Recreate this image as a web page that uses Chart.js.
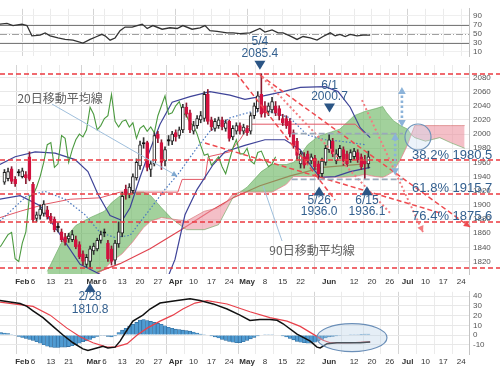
<!DOCTYPE html>
<html>
<head>
<meta charset="utf-8">
<script src="https://cdn.jsdelivr.net/npm/chart.js@4.4.0/dist/chart.umd.min.js"></script>
<style>
  html, body { margin: 0; padding: 0; background: #fff; }
  #wrap { position: relative; width: 500px; height: 368px; overflow: hidden; }
  canvas { position: absolute; left: 0; }
  #rsi { top: 0; }
  #macd { top: 283px; }
  #main { top: 0; pointer-events: none; }
</style>
</head>
<body>
<div id="wrap">
  <canvas id="rsi" width="500" height="65"></canvas>
  <canvas id="macd" width="500" height="85"></canvas>
  <canvas id="main" width="500" height="368"></canvas>
</div>
<script>
// x = trading day index, 0 = Mon Feb 6
const tickPos  = [-3, 0, 5, 10, 17, 20, 25, 30, 35, 40, 45, 50, 55, 60, 65, 70, 75, 83, 90, 95, 100, 105, 110, 115, 120];
const tickText = ['Feb', '6', '13', '21', 'Mar', '6', '13', '20', '27', 'Apr', '10', '17', '24', 'May', '8', '15', '22', 'Jun', '12', '20', '26', 'Jul', '10', '17', '24'];

// daily candles, first one at index -8
const firstDay = -8;
const opens = [1932,1937,1951,1936,1945,1940,1943,1968,
  1929,1881,1885,1888,1893,1884,1880,1868,1862,1855,
  1852,1851,1851,1844,1831,1816,1820,1835,1838,1850,
  1860,1846,1838,1822,1845,1860,1922,1915,1920,1938,
  1955,1986,1988,1950,1958,2000,1988,1962,1990,1990,
  2002,1998,2006,2038,2030,2004,2012,2020,2022,2056,
  2020,2008,2012,2020,2008,2018,1996,2004,2012,2004,
  2008,2004,2026,2036,2056,2040,2032,2034,2040,2036,
  2022,2022,2018,2002,1990,1958,1968,1972,1962,1966,
  1958,1944,1960,1978,1990,1962,1968,1978,1972,1964,
  1968,1974,1968,1962,1958];
const highs = [1950,1952,1954,1940,1950,1952,1947,1975,
  1932,1890,1900,1906,1898,1888,1883,1875,1866,1860,
  1860,1864,1856,1848,1835,1830,1842,1846,1853,1863,
  1866,1850,1842,1850,1876,1918,1928,1930,1944,1965,
  1990,1995,1990,1962,2002,2004,1992,1982,1998,2004,
  2006,2010,2042,2044,2034,2018,2026,2032,2060,2063,
  2024,2022,2024,2024,2020,2020,2012,2016,2016,2014,
  2012,2030,2044,2060,2085.4,2046,2044,2052,2046,2040,
  2028,2026,2022,2006,1994,1976,1974,1976,1972,1970,
  1962,1966,1984,2000.7,1994,1978,1984,1982,1976,1978,
  1980,1978,1972,1970,1976];
const lows = [1929,1934,1930,1926,1941,1938,1930,1934,
  1876,1876,1880,1884,1880,1874,1862,1862,1848,1843,
  1847,1848,1838,1824,1815,1812,1810.8,1830,1835,1846,
  1855,1820,1815,1816,1840,1855,1908,1910,1916,1935,
  1950,1980,1948,1940,1955,1988,1950,1955,1984,1985,
  1990,1994,2002,2024,2002,2000,2008,2016,2018,2014,
  2005,2004,2008,2006,2004,1990,1992,2000,2000,2000,
  1998,2000,2022,2032,2024,2024,2026,2030,2026,2020,
  2012,2008,1996,1980,1965,1952,1952,1958,1958,1950,
  1936,1940,1956,1974,1968,1958,1964,1956,1954,1960,
  1964,1960,1950,1936.1,1952];
const closes = [1946,1947,1933,1930,1946,1948,1938,1936,
  1879,1886,1894,1901,1883,1878,1865,1869,1851,1847,
  1856,1858,1841,1827,1820,1826,1838,1842,1850,1858,
  1861,1824,1820,1846,1862,1912,1914,1925,1940,1960,
  1985,1988,1953,1958,1998,1994,1960,1978,1992,2000,
  1996,2006,2038,2028,2006,2012,2022,2026,2056,2018,
  2010,2018,2020,2010,2016,1994,2008,2012,2004,2010,
  2002,2026,2040,2054,2028,2030,2040,2046,2030,2026,
  2016,2012,2000,1984,1970,1972,1956,1962,1968,1954,
  1944,1962,1980,1992,1972,1972,1980,1962,1958,1974,
  1976,1964,1954,1958,1968];

// ichimoku cloud (leading spans)
const cloudX = [4,8,12,16,20,22,25,28,31,33,36,39,43,48,52,54,56,58,60,64,67,71,73,75,77,80,86,90,93,96,98,99,101,103,105,106,107,110,114,117,120,121];
const spanA  = [1806,1847,1871,1882,1891,1903,1915,1918,1918,1913,1896,1880,1865,1865,1872,1891,1910,1918,1925,1947,1957,1957,1960,1971,1985,1997,2007,2026,2032,2036,2039,2031,2019,2012,2007,1999,1995,1990,1995,1988,1982,1980];
const spanB  = [1800,1795,1795,1797,1809,1820,1831,1848,1868,1877,1882,1880,1877,1891,1896,1903,1915,1918,1918,1918,1918,1929,1940,1940,1940,1940,1939,1940,1943,1940,1939,1941,1947,1964,1985,1999,2012,2012,2012,2012,2012,2012];

// other lines, read as [day, value]
const bbUpper = [[-9.3,1957],[-5,1968],[0.6,1975],[6.2,1973],[11.8,1964],[15.4,1947],[18.2,1915],[21.6,1885],[25,1878],[27.2,1896],[30,1939],[32.8,1978],[35.6,2014],[39,2045],[44,2053],[49.6,2060],[55.2,2055],[59.4,2049],[63.6,2053],[69.2,2059],[74.9,2066],[81.9,2067],[85.5,2060],[88.9,2038],[91.7,2009],[94.5,1995]];
const bbLower = [[-9.3,1908],[-3.6,1913],[2,1899],[7.6,1858],[13.2,1816],[18.8,1802],[23,1800],[25.8,1792],[32.8,1774],[37,1788],[39.8,1823],[42.6,1886],[46,1922],[50.5,1957],[53.8,1975],[59.4,1984],[65,1992],[70.6,1992],[74.9,1978],[78.2,1953],[80.5,1939],[84.7,1940],[88.9,1947],[94.5,1953]];
const kijun = [[-9.3,1882],[-3.6,1891],[3.4,1901],[10.4,1908],[18.8,1910],[24.4,1918],[40.6,1918],[41.8,1936],[48.2,1936],[49.1,1968],[55.2,1975],[58,1992],[60.8,2014],[90.3,2014],[93.1,2000]];
const ma20 = [[-9.3,1877],[-1.7,1913],[3.4,1919],[9,1908],[14.6,1886],[18.8,1861],[23,1854],[27.2,1857],[32.8,1894],[37,1922],[40.6,1943],[46,1981],[49.6,2004],[55.2,2023],[60.8,2031],[66.4,2032],[72,2023],[76.8,1999],[81.9,1992],[86.1,1990],[93.1,1985]];
const ma90 = [[18,1805],[24.4,1817],[32.8,1838],[41.2,1864],[49.6,1891],[56.1,1910],[63.6,1927],[72.1,1941],[81.3,1953],[93.1,1958]];
const levels = [2085.4, 1964, 1915.7, 1875.6, 1810.8];

// RSI
const rsiPts = [[-9.3,71.6],[-7.3,73.3],[-5.6,68.4],[-3.1,71.6],[-1.7,68.4],[-0.3,45.4],[2,47],[3.4,52],[4.8,45.4],[7,40.5],[9,37.3],[11.2,35.6],[14,29],[16,37.3],[17.9,43.8],[19.3,48.7],[20.2,45.4],[21.6,35.6],[23,40.5],[24.4,56.9],[25.8,65],[27.8,65],[29.2,68.4],[30.6,71.6],[32,61.8],[33.6,68.4],[36.2,60.2],[38.4,63.4],[40.4,61.8],[42,68.4],[44.6,60.2],[46.8,63.4],[48.2,68.4],[49.6,56.9],[51.6,55.3],[54.4,52],[56.1,52],[58,50.4],[60.8,52],[63.6,61.8],[65,53.6],[67,58.5],[68.7,52],[70.1,52],[72,45.4],[74,37.3],[75.7,43.8],[77.7,40.5],[79.6,35.6],[81.3,43.8],[83.3,52],[84.7,45.4],[86,48.7],[87.5,43.8],[88.9,48.7],[90.8,45.4],[92.5,47],[94.5,47]];
const rsiTicks = [10, 30, 50, 70, 90];

// MACD
const macdPts = [[-9.25,35.7],[-3.6,32.5],[-1.7,29.5],[0,25],[2.8,17.9],[5.6,8.9],[8.4,0],[11.2,-8],[14,-14.3],[15.4,-16],[17.9,-13.4],[19.6,-11.6],[21,-13.4],[23,-12.5],[24.4,-6.3],[26.4,5.4],[28,14.3],[30.8,20.5],[32.8,26.8],[35.6,33],[40.4,35.7],[44,37.5],[46.8,35.7],[50.5,32.1],[54.4,26.8],[58,20.5],[60.8,15],[63.6,16],[66.4,16],[68.4,15.2],[70.1,11.6],[74,0.9],[77.7,-6.3],[79.6,-12.5],[80.5,-13.4],[82.4,-8.9],[85.2,-8],[88.9,-8],[91.7,-8],[94.5,-7.1]];
const signalPts = [[-9.25,34],[0,29.5],[4.8,20.5],[9.5,7.1],[13.2,-1.8],[16.8,-8],[20.7,-12.5],[23,-12.5],[26.4,-8.9],[29.2,0],[32,7.1],[35.6,14.3],[39.2,20.5],[42,26.8],[45.4,33],[48.8,35.5],[54.4,32],[60.8,24],[66.4,17.9],[71.2,14.3],[74.9,8.9],[78.5,0.9],[81.3,-5.4],[83.3,-8],[88.9,-8],[94.5,-7.1]];
const histFirst = -9;
const histVals = [2.5,2,1.5,0.5,-0.5,-1.5,-2.5,-3.5,-4.5,
  -5.5,-7,-8.5,-10,-11.5,-12.5,-12.8,-12.8,-12.5,-12.5,
  -12,-11,-10,-8.5,-7,-6,-4.5,-3,-1.5,-0.5,
  -0.5,-1.5,-2,-1,2.5,5,7,9,11,13,
  15.5,16,15,14,13,12,11,9.5,8,7,
  6,5.5,5,4.5,4,3,2,1,0.5,0,
  -1,-2,-3,-4.5,-5.5,-6.5,-7.5,-8,-8,-7,
  -5.5,-4,-2.5,-1,0,0.5,0.5,0.5,0,0,
  -1,-2,-3.5,-5,-6.5,-7.5,-8,-8.5,-8.5,-7.5,
  -6,-4.5,-3,-2,-1.5,-1,-0.5,0,0,0.5,
  0.5,0.5,0.8,1,1];

const FONT = '"Liberation Sans", Arial, sans-serif';
const JP = '"Noto Sans CJK JP", sans-serif';
const X_MIN = -9.25, X_MAX = 122.2;
const isMonth = i => /^[A-Z]/.test(tickText[i] || '');
const pts = arr => arr.map(([x, y]) => ({ x, y }));

function xAxis(showLabels) {
  return {
    type: 'linear', min: X_MIN, max: X_MAX, offset: false,
    afterBuildTicks: s => { s.ticks = tickPos.map(v => ({ value: v })); },
    afterFit: s => { s.height = showLabels ? 14 : 0; },
    ticks: {
      display: showLabels, autoSkip: false, maxRotation: 0, padding: 3, color: '#333',
      font: c => ({ family: FONT, size: 8, weight: isMonth(c.index) ? 'bold' : 'normal' }),
      callback: (v, i) => tickText[i]
    },
    grid: { color: c => isMonth(c.index) ? '#d4d4d4' : '#ebebeb', drawTicks: false },
    border: { display: false }
  };
}

function yAxis(min, max, step, extra) {
  return Object.assign({
    position: 'right', min, max,
    afterFit: s => { s.width = 31; },
    ticks: { color: '#555', padding: 4, autoSkip: false, includeBounds: false, stepSize: step,
      font: { family: FONT, size: 8 }, callback: v => v },
    grid: { color: '#e8e8e8', drawTicks: false },
    border: { color: '#c4c4c4' }
  }, extra);
}

const base = {
  responsive: false, animation: false, devicePixelRatio: 1,
  plugins: { legend: { display: false }, tooltip: { enabled: false } },
  elements: { point: { radius: 0 }, line: { tension: 0 } }
};

// ---------- RSI ----------
const rsiLines = {
  id: 'rsiLines',
  beforeDatasetsDraw(chart) {
    const { ctx, chartArea: a, scales: { y } } = chart;
    ctx.save();
    [[70, []], [30, []], [50, [7, 2, 1, 2]]].forEach(([v, dash]) => {
      ctx.strokeStyle = v === 50 ? '#a0a0a0' : '#7a7a7a';
      ctx.lineWidth = 1;
      ctx.setLineDash(dash);
      ctx.beginPath();
      ctx.moveTo(a.left, Math.round(y.getPixelForValue(v)) + 0.5);
      ctx.lineTo(a.right, Math.round(y.getPixelForValue(v)) + 0.5);
      ctx.stroke();
    });
    ctx.restore();
  }
};

new Chart(document.getElementById('rsi'), {
  type: 'line',
  data: { datasets: [{ data: pts(rsiPts), borderColor: '#333', borderWidth: 1.3 }] },
  options: Object.assign({}, base, {
    scales: {
      x: xAxis(false),
      y: yAxis(-0.4, 106, 20, {
        afterBuildTicks: s => { s.ticks = rsiTicks.map(v => ({ value: v })); },
        grid: { color: '#efefef', drawTicks: false }
      })
    }
  }),
  plugins: [rsiLines]
});

// ---------- MACD ----------
const macdNote = {
  id: 'macdNote',
  afterDatasetsDraw(chart) {
    const { ctx, scales: { x, y } } = chart;
    ctx.save();
    ctx.beginPath();
    ctx.ellipse(x.getPixelForValue(89.4), y.getPixelForValue(-2.7), 35, 14, 0, 0, Math.PI * 2);
    ctx.fillStyle = 'rgba(180,205,230,0.35)';
    ctx.fill();
    ctx.strokeStyle = '#6b8fb8';
    ctx.lineWidth = 1.2;
    ctx.stroke();
    ctx.restore();
  }
};

new Chart(document.getElementById('macd'), {
  type: 'line',
  data: {
    datasets: [
      { type: 'line', data: pts(macdPts), borderColor: '#111', borderWidth: 1.5, order: 1 },
      { type: 'line', data: pts(signalPts), borderColor: '#e8414b', borderWidth: 1.2, order: 2 },
      { type: 'bar', data: histVals.map((v, i) => ({ x: histFirst + i, y: v })),
        backgroundColor: '#4f9bd2', borderColor: '#2c6798', borderWidth: 0.6,
        barThickness: 3.4, grouped: false, order: 3 }
    ]
  },
  options: Object.assign({}, base, {
    scales: { x: xAxis(true), y: yAxis(-19.6, 44.6, 10) }
  }),
  plugins: [macdNote]
});

// ---------- main price panel ----------
const idx = opens.map((_, i) => firstDay + i);
const kind = opens.map((o, i) => closes[i] > o + 2 ? 'up' : closes[i] < o - 2 ? 'down' : 'flat');
const bodyFill = { up: '#ffffff', down: '#d3123f', flat: '#111111' };
const bodyLine = { up: '#222222', down: '#d3123f', flat: '#111111' };

function arrowHead(ctx, x1, y1, x2, y2, size) {
  const a = Math.atan2(y2 - y1, x2 - x1);
  ctx.beginPath();
  ctx.moveTo(x2, y2);
  ctx.lineTo(x2 - size * Math.cos(a - 0.5), y2 - size * Math.sin(a - 0.5));
  ctx.lineTo(x2 - size * Math.cos(a + 0.5), y2 - size * Math.sin(a + 0.5));
  ctx.closePath();
  ctx.fill();
}

const notes = {
  id: 'notes',
  afterDatasetsDraw(chart) {
    const { ctx, scales: { x, y } } = chart;
    const X = v => x.getPixelForValue(v);
    const Y = v => y.getPixelForValue(v);
    ctx.save();

    // horizontal price levels, full width
    ctx.strokeStyle = '#ec3a40';
    ctx.lineWidth = 1.7;
    ctx.setLineDash([5, 3]);
    levels.forEach(v => {
      ctx.beginPath();
      ctx.moveTo(0, Math.round(Y(v)));
      ctx.lineTo(chart.width, Math.round(Y(v)));
      ctx.stroke();
    });

    // trend lines from the May high
    const lines = [
      [63.6, 2083.5, 122.5, 1868.8, 'dash', true],
      [48.2, 1987.4, 114.1, 1888.6, 'dash', false],
      [56.9, 2086.3, 84.7, 1906.9, 'dash', false],
      [64.2, 2080.6, 100.1, 1888.6, 'dot', false],
      [92.2, 2048, 109.3, 1861.7, 'dot', true]
    ];
    lines.forEach(([x1, v1, x2, v2, st, head]) => {
      ctx.strokeStyle = st === 'dash' ? '#ee4a4f' : '#f27d80';
      ctx.fillStyle = ctx.strokeStyle;
      ctx.lineWidth = st === 'dash' ? 1.5 : 2;
      ctx.setLineDash(st === 'dash' ? [5, 3] : [2, 2.5]);
      ctx.beginPath();
      ctx.moveTo(X(x1), Y(v1));
      ctx.lineTo(X(x2), Y(v2));
      ctx.stroke();
      if (head) { ctx.setLineDash([]); arrowHead(ctx, X(x1), Y(v1), X(x2), Y(v2), 7); }
    });

    // range box lines
    ctx.strokeStyle = '#9aa9ba';
    ctx.lineWidth = 1.6;
    ctx.setLineDash([6, 3]);
    [2000.7, 1936.0].forEach(v => {
      ctx.beginPath();
      ctx.moveTo(X(72.5), Y(v));
      ctx.lineTo(X(103.7), Y(v));
      ctx.stroke();
    });

    // dotted target arrows
    ctx.strokeStyle = '#8cb3d9';
    ctx.fillStyle = '#8cb3d9';
    ctx.lineWidth = 2.6;
    [[103.4, 2066.5, 2010], [101.5, 2001.6, 1942]].forEach(([d, top, bot]) => {
      const px = X(d);
      ctx.setLineDash([2.5, 2.5]);
      ctx.beginPath();
      ctx.moveTo(px, Y(bot) - 4);
      ctx.lineTo(px, Y(top) + 4);
      ctx.stroke();
      ctx.setLineDash([]);
      arrowHead(ctx, px, Y(bot), px, Y(top), 8);
      arrowHead(ctx, px, Y(top), px, Y(bot), 8);
    });

    // circle at cloud twist
    ctx.setLineDash([]);
    ctx.beginPath();
    ctx.arc(X(107.9), Y(1995.9), 13, 0, Math.PI * 2);
    ctx.fillStyle = 'rgba(200,220,240,0.35)';
    ctx.fill();
    ctx.strokeStyle = '#6f93ba';
    ctx.lineWidth = 1.2;
    ctx.stroke();

    // pointer lines for the MA labels
    ctx.strokeStyle = '#9fbfdc';
    ctx.fillStyle = '#7fa8d0';
    ctx.lineWidth = 1;
    ctx.beginPath();
    ctx.moveTo(X(5.3), Y(2042.5));
    ctx.lineTo(X(40.4), Y(1940.8));
    ctx.stroke();
    arrowHead(ctx, X(5.3), Y(2042.5), X(40.4), Y(1940.8), 6);
    ctx.beginPath();
    ctx.moveTo(X(69.8), Y(1849));
    ctx.lineTo(X(64.5), Y(1926.7));
    ctx.stroke();

    ctx.textAlign = 'center';
    ctx.textBaseline = 'middle';
    ctx.fillStyle = '#5e5e5e';
    ctx.font = '12px ' + JP;
    ctx.fillText('20日移動平均線', X(7.6), Y(2051));
    ctx.fillText('90日移動平均線', X(78.2), Y(1836.3));

    // high / low marks
    const marks = [
      [63.6, 2085.4, '5/4', '2085.4', -4, -32, -20],
      [83.1, 2000.7, '6/1', '2000.7', -21, -48, -37],
      [80.2, 1936.0, '5/26', '1936.0', 7, 21, 32],
      [93.6, 1936.1, '6/15', '1936.1', 7, 21, 32],
      [16, 1810.8, '2/28', '1810.8', 15, 29, 42]
    ];
    ctx.font = '12px ' + FONT;
    marks.forEach(([d, v, t1, t2, tip, o1, o2]) => {
      const px = X(d), py = Y(v);
      const dir = tip < 0 ? 1 : -1;
      ctx.fillStyle = '#2b5585';
      ctx.beginPath();
      ctx.moveTo(px, py + tip);
      ctx.lineTo(px - 5.5, py + tip - dir * 9);
      ctx.lineTo(px + 5.5, py + tip - dir * 9);
      ctx.closePath();
      ctx.fill();
      ctx.fillStyle = '#34608f';
      ctx.fillText(t1, px, py + o1);
      ctx.fillText(t2, px, py + o2);
    });

    // retracement labels
    ctx.textAlign = 'left';
    ctx.font = '13px ' + FONT;
    [['38.2% 1980.5', 1970.5], ['61.8% 1915.7', 1923.9], ['76.4% 1875.6', 1884.3]].forEach(([t, v]) => {
      ctx.fillText(t, X(106.25), Y(v));
    });
    ctx.restore();
  }
};

new Chart(document.getElementById('main'), {
  type: 'line',
  data: {
    datasets: [
      { data: pts(ma90), borderColor: '#e0434f', borderWidth: 1.2, order: 30 },
      { data: cloudX.map((d, i) => ({ x: d, y: spanA[i] })), borderColor: 'rgba(90,160,80,0.7)', borderWidth: 0.8,
        fill: { target: '+1', above: 'rgba(105,180,95,0.62)', below: 'rgba(236,145,158,0.58)' }, order: 25 },
      { data: cloudX.map((d, i) => ({ x: d, y: spanB[i] })), borderColor: 'rgba(225,110,120,0.8)', borderWidth: 0.8, order: 24 },
      { data: pts(kijun), borderColor: '#e35866', borderWidth: 1, order: 12 },
      { data: pts(bbUpper), borderColor: '#3e4398', borderWidth: 1.2, order: 11 },
      { data: pts(bbLower), borderColor: '#3e4398', borderWidth: 1.2, order: 11 },
      { data: pts(ma20), borderColor: '#4a78c0', borderWidth: 1.2, borderDash: [1.5, 2], order: 10 },
      { data: closes.map((c, i) => ({ x: idx[i] - 26, y: c })), borderColor: '#4b9a3f', borderWidth: 1.1, order: 9 },
      { type: 'bar', data: idx.map((d, i) => ({ x: d, y: [lows[i], highs[i]] })),
        backgroundColor: kind.map(k => k === 'down' ? '#8a1a30' : '#333'), barThickness: 1, grouped: false, order: 2 },
      { type: 'bar', data: idx.map((d, i) => ({ x: d, y: [opens[i], closes[i]] })),
        backgroundColor: kind.map(k => bodyFill[k]), borderColor: kind.map(k => bodyLine[k]),
        borderWidth: 1, borderSkipped: false, barThickness: 3, minBarLength: 1.5, grouped: false, order: 1 }
    ]
  },
  options: Object.assign({}, base, {
    layout: { padding: { top: 65, bottom: 80 } },
    scales: { x: xAxis(true), y: yAxis(1802.4, 2097.6, 20) }
  }),
  plugins: [notes]
});
</script>
</body>
</html>
